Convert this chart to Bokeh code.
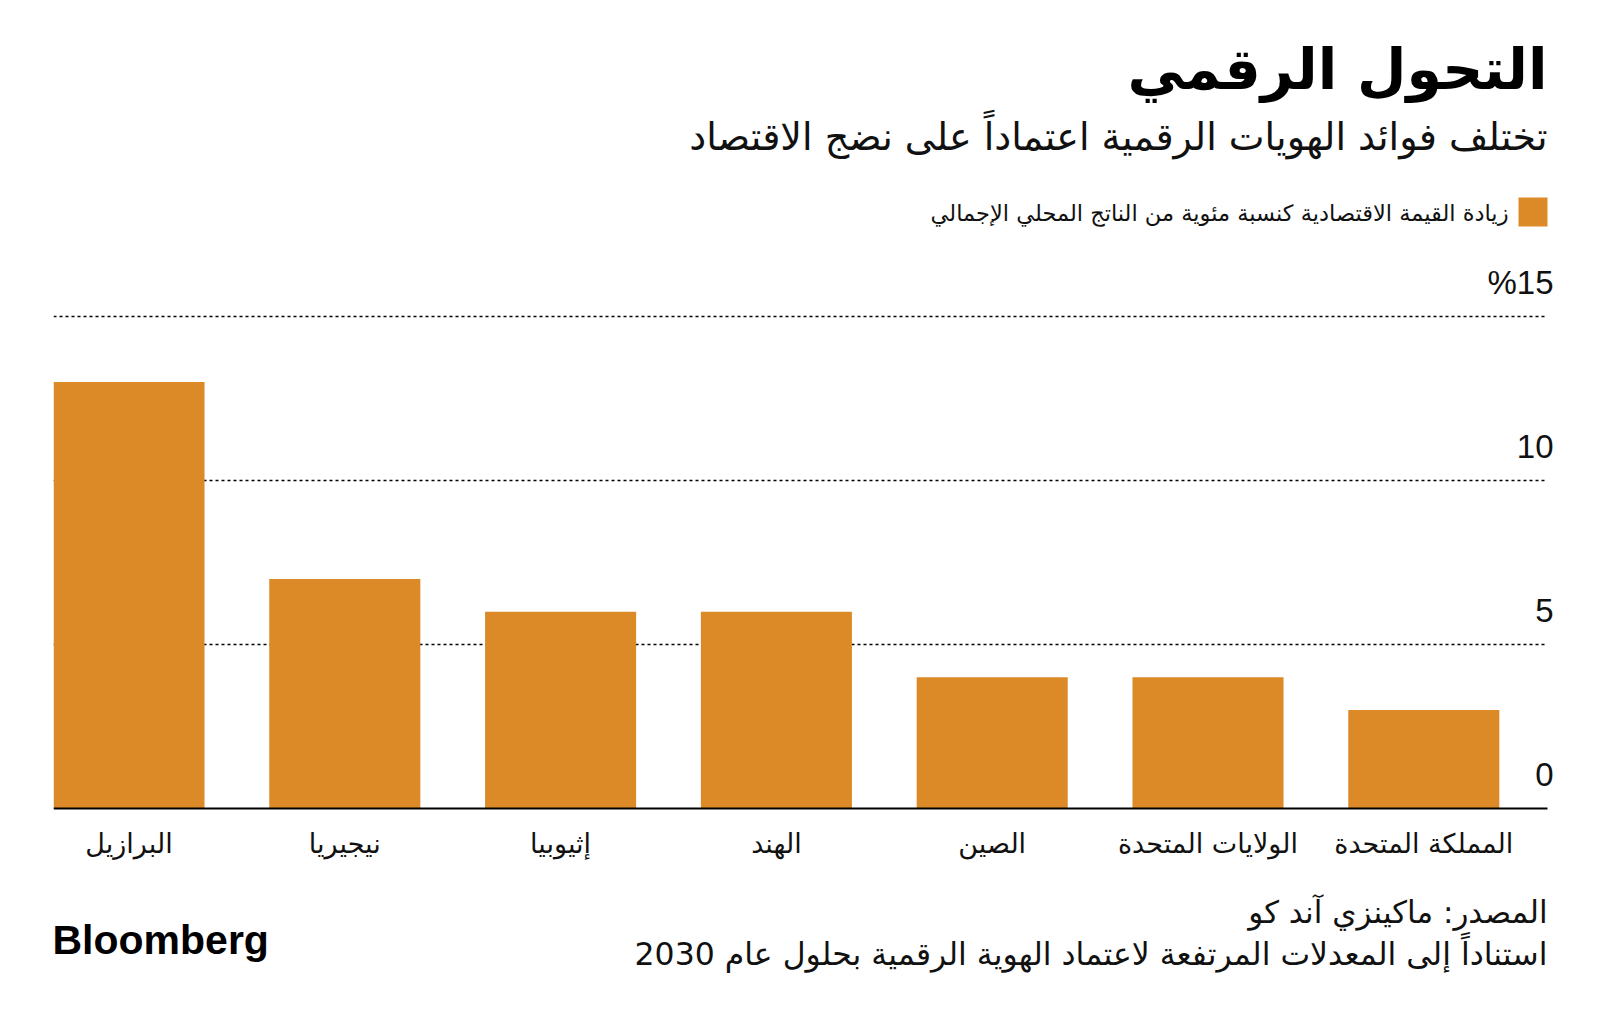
from bokeh.plotting import figure
from bokeh.models import Range1d, Grid, Label, LabelSet, ColumnDataSource
from bokeh.embed import file_html
from bokeh.resources import INLINE
from bokeh.core.properties import value

# ---------------- data ----------------
countries = ["البرازيل", "نيجيريا", "إثيوبيا", "الهند", "الصين", "الولايات المتحدة", "المملكة المتحدة"]
gdp_gain = [13, 7, 6, 6, 4, 4, 3]
y_ticks = [0, 5, 10, 15]
y_tick_labels = ["0", "5", "10", "%15"]
grid_ticks = [5, 10, 15]

title_text = "التحول الرقمي"
subtitle_text = "تختلف فوائد الهويات الرقمية اعتماداً على نضج الاقتصاد"
legend_text = "زيادة القيمة الاقتصادية كنسبة مئوية من الناتج المحلي الإجمالي"
source_text = "المصدر: ماكينزي آند كو"
note_text = "استناداً إلى المعدلات المرتفعة لاعتماد الهوية الرقمية بحلول عام 2030"
brand_text = "Bloomberg"

# ---------------- style / layout ----------------
ORANGE = "#DB8A27"
INK = "#111111"
AR_FONT = "DejaVu Sans"
NUM_FONT = "Liberation Sans"

PAGE_MARGIN = 0
W, H = 1598, 1019
FRAME_L, FRAME_R = 53, 1580      # page pixels (frame)
AXIS_R = 1547                    # right end of gridlines / baseline
ZERO_PY = 808                    # page pixel of value 0
PX_PER_UNIT = 32.8
BAR0_CX = 128.5
BAR_STEP = 215.8

def dx(px):
    return (px - BAR0_CX) / BAR_STEP

def dy(py):
    return (ZERO_PY - py) / PX_PER_UNIT

x_start, x_end = dx(FRAME_L), dx(FRAME_R)
x_axis_end = dx(AXIS_R)
y_end = dy(PAGE_MARGIN)
y_start = dy(PAGE_MARGIN + H)

p = figure(width=W, height=H, title=None,
           x_range=Range1d(x_start, x_end), y_range=Range1d(y_start, y_end),
           x_axis_location=None, y_axis_location=None,
           toolbar_location=None, output_backend="svg",
           min_border_left=FRAME_L - PAGE_MARGIN,
           min_border_right=W - (FRAME_R - PAGE_MARGIN),
           min_border_top=0, min_border_bottom=0)
p.outline_line_color = None
p.background_fill_color = "white"
p.border_fill_color = "white"
p.center = [r for r in p.center if not isinstance(r, Grid)]

# dotted gridlines
gsrc = ColumnDataSource(dict(y=grid_ticks, x0=[x_start] * len(grid_ticks), x1=[x_axis_end] * len(grid_ticks)))
p.segment(x0="x0", x1="x1", y0="y", y1="y", source=gsrc, line_color="#000000",
          line_dash="3 3", line_width=1.5)

src = ColumnDataSource(dict(idx=list(range(len(countries))), country=countries, val=gdp_gain))
p.vbar(x="idx", top="val", bottom=0, width=0.70, source=src, fill_color=ORANGE, line_color=None)

# baseline at zero
p.segment(x0=[x_start], x1=[x_axis_end], y0=[0], y1=[0], line_color="black", line_width=2.2)

# y tick labels (above gridlines, right side)
tsrc = ColumnDataSource(dict(y=y_ticks, lab=y_tick_labels, x=[x_axis_end] * len(y_ticks)))
p.add_layout(LabelSet(x="x", y="y", text="lab", source=tsrc, text_align="right",
                      text_baseline="alphabetic", x_offset=6, y_offset=23,
                      text_font=value(NUM_FONT), text_font_size="33px", text_color=INK))

# category labels
p.add_layout(LabelSet(x="idx", y=0, text="country", source=src, text_align="center",
                      text_baseline="alphabetic", y_offset=-44,
                      text_font=value(AR_FONT), text_font_size="27px", text_color=INK))

# titles
p.add_layout(Label(x=dx(1547), y=dy(68), text=title_text, text_align="right",
                   text_baseline="alphabetic", text_font=AR_FONT, text_font_size="57px",
                   text_font_style="bold", text_color="black"))
p.add_layout(Label(x=dx(1547), y=dy(136), text=subtitle_text, text_align="right",
                   text_baseline="alphabetic", text_font=AR_FONT, text_font_size="38px",
                   text_color=INK))

# legend
p.scatter(x=[dx(1532.5)], y=[dy(211.5)], marker="square", size=29,
          fill_color=ORANGE, line_color=None)
p.add_layout(Label(x=dx(1508), y=dy(212), text=legend_text, text_align="right",
                   text_baseline="middle", text_font=AR_FONT, text_font_size="22.5px",
                   text_color=INK))

# footer
p.add_layout(Label(x=dx(1547), y=dy(911), text=source_text, text_align="right",
                   text_baseline="alphabetic", text_font=AR_FONT, text_font_size="31px",
                   text_color=INK))
p.add_layout(Label(x=dx(1547), y=dy(953), text=note_text, text_align="right",
                   text_baseline="alphabetic", text_font=AR_FONT, text_font_size="31.5px",
                   text_color=INK))
p.add_layout(Label(x=dx(52), y=dy(939), text=brand_text, text_align="left",
                   text_baseline="alphabetic", text_font=NUM_FONT, text_font_size="41px",
                   text_font_style="bold", text_color="black"))

open("out.html", "w").write(file_html(p, INLINE))
